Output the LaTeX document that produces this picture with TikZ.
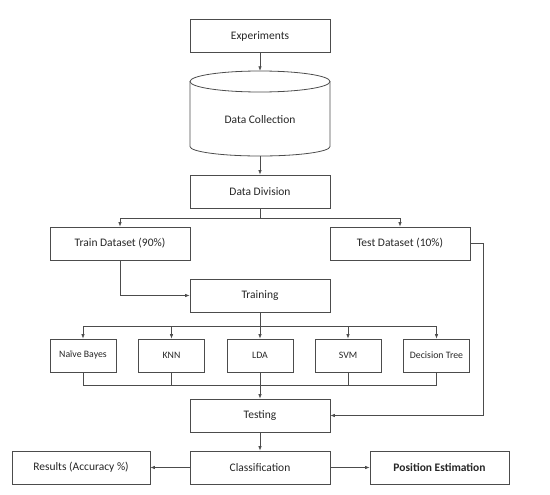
\documentclass[tikz,border=0pt]{standalone}
\usepackage{fontspec}
\setmainfont{Carlito}
\usetikzlibrary{arrows.meta}
\definecolor{boxc}{gray}{0.3}
\definecolor{txtc}{gray}{0.15}
\begin{document}
\begin{tikzpicture}[x=1pt,y=-1pt,
  box/.style={draw=boxc, line width=0.8pt, minimum width=140pt, minimum height=33pt, inner sep=0pt, text=txtc, font=\fontsize{11.5}{13}\selectfont},
  alg/.style={box, minimum width=66pt, font=\fontsize{9.8}{11}\selectfont},
  arr/.style={-{Latex[length=4.5pt,width=3.5pt]}, line width=0.7pt, draw=boxc},
  ln/.style={line width=0.7pt, draw=boxc}]
\useasboundingbox (0,0) rectangle (550,495);
% nodes
\node[box] (exp) at (260,36) {Experiments};
% cylinder drawn directly
\draw[boxc, line width=0.8pt] (260,81.5) ellipse [x radius=70, y radius=10.5];
\draw[boxc, line width=0.8pt] (190,81.5) -- (190,146.5) arc [start angle=180, end angle=0, x radius=70, y radius=9.5] -- (330,81.5);
\node[minimum width=140pt, minimum height=85pt, inner sep=0pt] (dc) at (260,113.5) {};
\node[text=txtc, font=\fontsize{11.5}{13}\selectfont] (dclab) at (260,119.5) {Data Collection};
\node[box] (div) at (260,191.5) {Data Division};
\node[box] (train) at (120,243.5) {Train Dataset (90\%)};
\node[box] (test) at (400,243.5) {Test Dataset (10\%)};
\node[box] (training) at (260,295.5) {Training};
\node[alg] (nb) at (83,355.5) {Naïve Bayes};
\node[alg] (knn) at (171.5,355.5) {KNN};
\node[alg] (lda) at (260,355.5) {LDA};
\node[alg] (svm) at (348,355.5) {SVM};
\node[alg] (dt) at (436.5,355.5) {Decision Tree};
\node[box] (testing) at (260,415.5) {Testing};
\node[box] (cls) at (260,467.5) {Classification};
\node[box, minimum width=138pt] (res) at (81,467.5) {Results (Accuracy \%)};
\node[box, minimum width=139pt, font=\fontsize{11.5}{13}\selectfont\bfseries] (pos) at (439.5,467.5) {Position Estimation};
% coordinates
\coordinate (s1) at (260,218);
\coordinate (s2) at (260,326);
\coordinate (m) at (260,385);
\coordinate (tr) at (483,243.5);
% connectors
\draw[arr] (exp) -- (dc);
\draw[arr] (dc) -- (div);
\draw[ln] (div) -- (s1);
\draw[arr] (s1) -| (train);
\draw[arr] (s1) -| (test);
\draw[arr] (train) |- (training);
\draw[arr] (test.east) -- (tr) |- (testing.east);
\draw[ln] (training) -- (s2);
\draw[arr] (s2) -| (nb);
\draw[arr] (s2) -| (knn);
\draw[arr] (s2) -- (lda);
\draw[arr] (s2) -| (svm);
\draw[arr] (s2) -| (dt);
\draw[ln] (nb) |- (m);
\draw[ln] (knn) |- (m);
\draw[ln] (svm) |- (m);
\draw[ln] (dt) |- (m);
\draw[arr] (lda) -- (testing);
\draw[arr] (testing) -- (cls);
\draw[arr] (cls) -- (res);
\draw[arr] (cls) -- (pos);
\end{tikzpicture}
\end{document}
